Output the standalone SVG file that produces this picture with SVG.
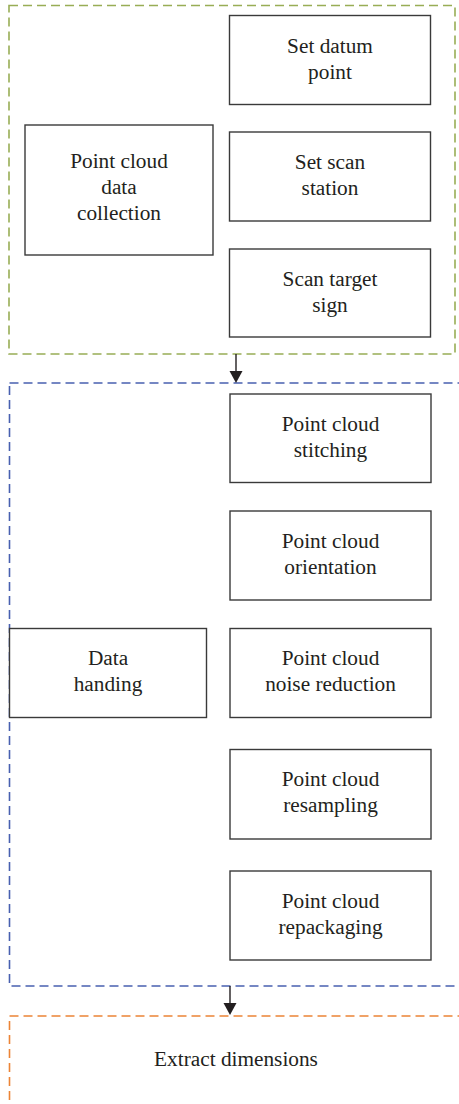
<svg xmlns="http://www.w3.org/2000/svg" width="459" height="1104" viewBox="0 0 459 1104">
<style>
.box{fill:#fff;stroke:#3a3a3a;stroke-width:1.4}
.grp{fill:none;stroke-width:1.6;stroke-dasharray:9 5}
.t{font-family:"Liberation Serif","Times New Roman",serif;font-size:21.3px;fill:#231f20;text-anchor:middle}
.c{stroke:#231f20;stroke-width:1.4;fill:none}
.ah{fill:#231f20}
</style>
<g id="groups">
<rect id="g-collect" class="grp" x="9" y="5.5" width="446" height="348.5" stroke="#98ad55"/>
<rect id="g-handle" class="grp" x="9.5" y="383" width="460" height="603" stroke="#4860b0"/>
<rect id="g-extract" class="grp" x="9.5" y="1016" width="460" height="100" stroke="#ec8436"/>
</g>
<g id="connectors">
<path class="c" d="M236,354 V372"/>
<path class="ah" d="M229.5,371 L242.5,371 L236,383 Z"/>
<path class="c" d="M230,986 V1004"/>
<path class="ah" d="M223.5,1003 L236.5,1003 L230,1015 Z"/>
</g>
<g id="n-collection"><rect class="box" x="25" y="125" width="188" height="130"/>
<text class="t" x="119" y="168">Point cloud</text><text class="t" x="119" y="194">data</text><text class="t" x="119" y="220">collection</text></g>
<g id="n-datum"><rect class="box" x="229.5" y="15.5" width="201" height="89"/>
<text class="t" x="330" y="52.5">Set datum</text><text class="t" x="330" y="78.5">point</text></g>
<g id="n-station"><rect class="box" x="229.5" y="132" width="201" height="89"/>
<text class="t" x="330" y="169">Set scan</text><text class="t" x="330" y="195">station</text></g>
<g id="n-target"><rect class="box" x="229.5" y="249" width="201" height="88"/>
<text class="t" x="330" y="285.5">Scan target</text><text class="t" x="330" y="311.5">sign</text></g>
<g id="n-handing"><rect class="box" x="9.5" y="628.5" width="197" height="89"/>
<text class="t" x="108" y="665">Data</text><text class="t" x="108" y="691">handing</text></g>
<g id="n-stitch"><rect class="box" x="230" y="394" width="201" height="88.5"/>
<text class="t" x="330.5" y="431">Point cloud</text><text class="t" x="330.5" y="457">stitching</text></g>
<g id="n-orient"><rect class="box" x="230" y="511" width="201" height="89"/>
<text class="t" x="330.5" y="548">Point cloud</text><text class="t" x="330.5" y="574">orientation</text></g>
<g id="n-noise"><rect class="box" x="230" y="628.5" width="201" height="89"/>
<text class="t" x="330.5" y="665">Point cloud</text><text class="t" x="330.5" y="691">noise reduction</text></g>
<g id="n-resample"><rect class="box" x="230" y="749.5" width="201" height="89.5"/>
<text class="t" x="330.5" y="786">Point cloud</text><text class="t" x="330.5" y="812">resampling</text></g>
<g id="n-repack"><rect class="box" x="230" y="871" width="201" height="89"/>
<text class="t" x="330.5" y="908">Point cloud</text><text class="t" x="330.5" y="934">repackaging</text></g>
<g id="n-extract"><text class="t" x="236" y="1066">Extract dimensions</text></g>
</svg>
